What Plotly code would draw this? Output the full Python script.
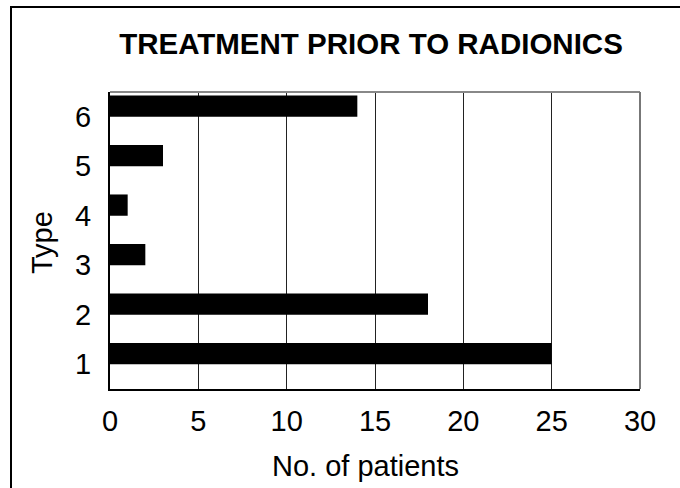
import plotly.graph_objects as go

types = [1, 2, 3, 4, 5, 6]
patients = [25, 18, 2, 1, 3, 14]
x_ticks = [0, 5, 10, 15, 20, 25, 30]

W, H = 680, 488
L, R, T, B = 110, 40, 92, 99
pw, ph = W - L - R, H - T - B

def px_x(p):
    return (p - L) / pw

def px_y(p):
    return (H - B - p) / ph

FONT = "Liberation Sans, Arial, sans-serif"

fig = go.Figure()
fig.add_trace(go.Bar(
    y=types, x=patients, orientation="h",
    marker=dict(color="black", line=dict(width=0)),
    width=0.43, offset=0.0,
))

fig.update_layout(
    width=W, height=H,
    margin=dict(l=L, r=R, t=T, b=B),
    paper_bgcolor="white", plot_bgcolor="white",
    showlegend=False,
    font=dict(family=FONT, color="black", size=29),
    title=dict(text="<b>TREATMENT PRIOR TO RADIONICS</b>",
               x=371 / W, xanchor="center",
               y=1 - 44 / H, yanchor="middle",
               font=dict(family=FONT, size=29.5, color="black")),
)

fig.update_xaxes(
    range=[0, 30], tickvals=x_ticks, ticktext=[str(v) for v in x_ticks],
    showgrid=True, gridcolor="#222", gridwidth=1,
    showline=True, linecolor="black", linewidth=2, mirror=False,
    zeroline=False, ticks="", ticklabelstandoff=5,
    tickfont=dict(size=29, family=FONT, color="black"),
)
fig.update_yaxes(
    range=[0.5, 6.5], tickvals=types, ticktext=[str(v) for v in types],
    showgrid=False, showline=True, linecolor="black", linewidth=2,
    mirror=False, zeroline=False, ticks="", ticklabelstandoff=11,
    tickfont=dict(size=29, family=FONT, color="black"),
)

# gray top and right plot borders
fig.add_shape(type="line", xref="paper", yref="paper", x0=0, x1=1, y0=1, y1=1,
              line=dict(color="#888", width=2))
fig.add_shape(type="line", xref="paper", yref="paper", x0=1, x1=1, y0=0, y1=1,
              line=dict(color="#777", width=2))

# outer frame
fig.add_shape(type="rect", xref="paper", yref="paper",
              x0=px_x(11), x1=px_x(W + 20), y0=px_y(H + 20), y1=px_y(7),
              line=dict(color="black", width=2), fillcolor="rgba(0,0,0,0)")

fig.add_annotation(text="Type", textangle=-90, xref="paper", yref="paper",
                   x=px_x(42), y=px_y(243), showarrow=False,
                   xanchor="center", yanchor="middle",
                   font=dict(size=29, family=FONT, color="black"))
fig.add_annotation(text="No. of patients", xref="paper", yref="paper",
                   x=px_x(365), y=px_y(466), showarrow=False,
                   xanchor="center", yanchor="middle",
                   font=dict(size=29, family=FONT, color="black"))

fig.write_html(
    "out.html",
    config={"displayModeBar": False},
    post_script="document.body.style.margin='0';document.body.style.overflow='hidden';",
)
